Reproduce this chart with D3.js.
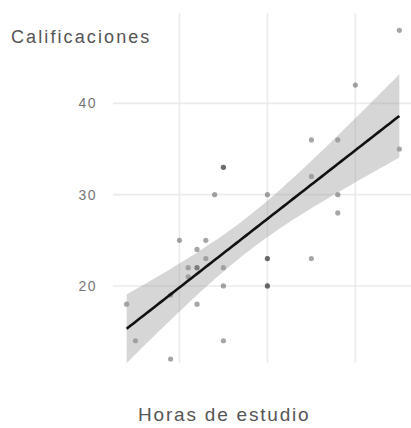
<!DOCTYPE html>
<html>
<head>
<meta charset="utf-8">
<script src="https://cdnjs.cloudflare.com/ajax/libs/d3/7.8.5/d3.min.js"></script>
<style>
    body { margin: 0; background: #fff; }
    svg { display: block; }
</style>
</head>
<body>
<div id="chart"></div>
<script>
(function() {
    'use strict';

    // datos
    var horas = [4, 5, 9, 9, 10, 11, 11, 12, 12, 12, 12, 13, 13, 14, 15, 15, 15, 15, 15,
        20, 20, 20, 20, 20, 25, 25, 25, 28, 28, 28, 30, 35, 35];
    var calificaciones = [18, 14, 12, 19, 25, 22, 21, 24, 22, 22, 18, 25, 23, 30, 33, 33, 22, 20, 14,
        30, 23, 23, 20, 20, 36, 32, 23, 36, 30, 28, 42, 48, 35];
    var xTicks = [10, 20, 30];
    var yTicks = [20, 30, 40];
    var tituloY = "Calificaciones";
    var tituloX = "Horas de estudio";

    var w = 411, h = 428;
    var panel = { left: 113, right: 413, top: 13, bottom: 363 };

    var x = d3.scaleLinear().domain([2.45, 36.55]).range([panel.left, panel.right]);
    var y = d3.scaleLinear().domain([11.56, 49.9]).range([panel.bottom, panel.top]);

    var svg = d3.select("#chart")
        .append("svg")
        .attr("width", w)
        .attr("height", h);

    // rejilla
    svg.append("g")
        .selectAll("line")
        .data(yTicks)
        .enter().append("line")
        .attr("x1", panel.left)
        .attr("x2", panel.right)
        .attr("y1", function(d) { return y(d); })
        .attr("y2", function(d) { return y(d); })
        .attr("stroke", "#ebebeb")
        .attr("stroke-width", 1.6);

    svg.append("g")
        .selectAll("line")
        .data(xTicks)
        .enter().append("line")
        .attr("x1", function(d) { return x(d); })
        .attr("x2", function(d) { return x(d); })
        .attr("y1", panel.top)
        .attr("y2", panel.bottom)
        .attr("stroke", "#ebebeb")
        .attr("stroke-width", 1.6);

    // etiquetas del eje y
    svg.append("g")
        .selectAll("text")
        .data(yTicks)
        .enter().append("text")
        .attr("x", 97)
        .attr("y", function(d) { return y(d); })
        .attr("dy", "0.35em")
        .attr("text-anchor", "end")
        .style("font-family", "'Liberation Sans', Arial, sans-serif")
        .style("font-size", "14px")
        .style("letter-spacing", "1.5px")
        .style("fill", "#777")
        .text(function(d) { return d; });

    // regresion lineal con banda de confianza 95%
    var n = horas.length;
    var mx = d3.mean(horas), my = d3.mean(calificaciones);
    var sxx = 0, sxy = 0;
    horas.forEach(function(v, i) {
        sxx += (v - mx) * (v - mx);
        sxy += (v - mx) * (calificaciones[i] - my);
    });
    var b = sxy / sxx, a = my - b * mx;
    var sse = 0;
    horas.forEach(function(v, i) {
        var r = calificaciones[i] - (a + b * v);
        sse += r * r;
    });
    var sigma = Math.sqrt(sse / (n - 2));
    var tq = 2.0395;

    var xMin = d3.min(horas), xMax = d3.max(horas);
    var grid = d3.range(0, 81).map(function(i) {
        var xv = xMin + (xMax - xMin) * i / 80;
        var fit = a + b * xv;
        var se = sigma * Math.sqrt(1 / n + (xv - mx) * (xv - mx) / sxx);
        return { x: xv, fit: fit, lo: fit - tq * se, hi: fit + tq * se };
    });

    svg.append("g")
        .selectAll("circle")
        .data(horas)
        .enter().append("circle")
        .attr("cx", function(d) { return x(d); })
        .attr("cy", function(d, i) { return y(calificaciones[i]); })
        .attr("r", 2.6)
        .attr("fill", "#000")
        .attr("fill-opacity", 0.35);

    svg.append("path")
        .datum(grid)
        .attr("d", d3.area()
            .x(function(d) { return x(d.x); })
            .y0(function(d) { return y(d.lo); })
            .y1(function(d) { return y(d.hi); }))
        .attr("fill", "#999")
        .attr("fill-opacity", 0.4);

    svg.append("path")
        .datum(grid)
        .attr("d", d3.line()
            .x(function(d) { return x(d.x); })
            .y(function(d) { return y(d.fit); }))
        .attr("fill", "none")
        .attr("stroke", "#111")
        .attr("stroke-width", 2.6);

    // titulos
    svg.append("text")
        .attr("x", 11)
        .attr("y", 43)
        .style("font-family", "'Liberation Sans', Arial, sans-serif")
        .style("font-size", "18px")
        .style("letter-spacing", "2.1px")
        .style("fill", "#555")
        .text(tituloY);

    svg.append("text")
        .attr("x", 138)
        .attr("y", 421)
        .style("font-family", "'Liberation Sans', Arial, sans-serif")
        .style("font-size", "19px")
        .style("letter-spacing", "1.8px")
        .style("fill", "#555")
        .text(tituloX);
}());
</script>
</body>
</html>
